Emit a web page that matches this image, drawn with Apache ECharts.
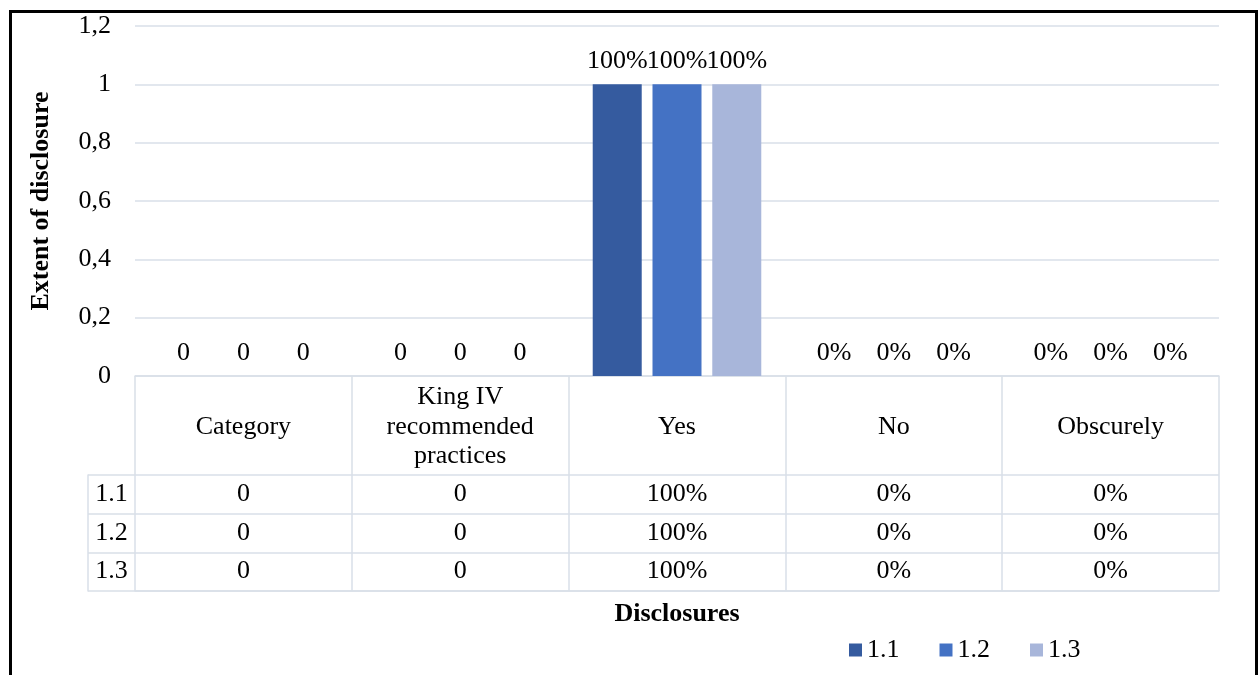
<!DOCTYPE html>
<html>
<head>
<meta charset="utf-8">
<title>Extent of disclosure</title>
<script src="https://cdn.jsdelivr.net/npm/echarts@6/dist/echarts.min.js"></script>
<style>
  html, body { margin: 0; padding: 0; background: #fff; }
  #chart { width: 1260px; height: 675px; }
</style>
</head>
<body>
<div id="chart"></div>
<script>
// Disclosure categories along the x axis
const categories = ['Category', 'King IV\nrecommended\npractices', 'Yes', 'No', 'Obscurely'];
// How each category's values are written: plain number or percentage
const valueFormats = ['number', 'number', 'percent', 'percent', 'percent'];
// Series names (rows of the data table)
const seriesNames = ['1.1', '1.2', '1.3'];
// Extent of disclosure per series
const values11 = [0, 0, 1, 0, 0];
const values12 = [0, 0, 1, 0, 0];
const values13 = [0, 0, 1, 0, 0];
// Y axis ticks
const yMin = 0, yMax = 1.2, yStep = 0.2;

const seriesValues = [values11, values12, values13];
const seriesColors = ['#355b9f', '#4472c4', '#a8b6da'];
const FONT = "'Liberation Serif', 'Times New Roman', serif";
const TEXT = '#000';
const LINE = '#d9dfe8';
const FS = 26;

function fmt(v, idx) {
  return valueFormats[idx] === 'percent' ? Math.round(v * 100) + '%' : String(v);
}

// Cells of the data table below the axis
const tableCells = [];
seriesValues.forEach((arr, s) => {
  arr.forEach((v, c) => tableCells.push([c, s, fmt(v, c)]));
});

const chart = echarts.init(document.getElementById('chart'), null, { renderer: 'canvas' });

chart.setOption({
  backgroundColor: '#fff',
  animation: false,
  textStyle: { fontFamily: FONT, color: TEXT },
  grid: [
    { left: 135, right: 41, top: 26, bottom: 299 },
    { left: 135, right: 41, top: 475, height: 116 }
  ],
  legend: {
    data: seriesNames,
    left: 844,
    top: 632,
    itemWidth: 13,
    itemHeight: 13,
    itemGap: 40,
    icon: 'rect',
    textStyle: { fontFamily: FONT, fontSize: FS, color: TEXT }
  },
  xAxis: [
    {
      gridIndex: 0,
      type: 'category',
      data: categories,
      axisLine: { show: true, lineStyle: { color: LINE, width: 1.5 } },
      axisTick: { show: true, interval: 0, length: 99, lineStyle: { color: LINE, width: 1.5 } },
      axisLabel: {
        interval: 0,
        margin: 51,
        verticalAlign: 'middle',
        lineHeight: 29.5,
        fontFamily: FONT,
        fontSize: FS,
        color: TEXT
      },
      splitLine: { show: false }
    },
    {
      gridIndex: 1,
      type: 'category',
      data: categories,
      axisLine: { show: true, lineStyle: { color: LINE, width: 1.5 } },
      axisTick: { show: false },
      axisLabel: { show: false },
      splitLine: { show: true, interval: 0, lineStyle: { color: LINE, width: 1.5 } },
      name: 'Disclosures',
      nameLocation: 'middle',
      nameGap: 10,
      nameTextStyle: { fontFamily: FONT, fontSize: FS, fontWeight: 'bold', color: TEXT }
    }
  ],
  yAxis: [
    {
      gridIndex: 0,
      type: 'value',
      min: yMin,
      max: yMax,
      interval: yStep,
      axisLine: { show: false },
      axisTick: { show: false },
      axisLabel: {
        margin: 24,
        fontFamily: FONT,
        fontSize: FS,
        color: TEXT,
        formatter: v => String(Math.round(v * 10) / 10).replace('.', ',')
      },
      splitLine: { show: true, lineStyle: { color: LINE, width: 1.5 } },
      name: 'Extent of disclosure',
      nameLocation: 'middle',
      nameGap: 81,
      nameRotate: 90,
      nameTextStyle: { fontFamily: FONT, fontSize: FS, fontWeight: 'bold', color: TEXT }
    },
    {
      gridIndex: 1,
      type: 'category',
      inverse: true,
      data: seriesNames,
      axisLine: { show: false },
      axisTick: { show: true, interval: 0, length: 47, lineStyle: { color: LINE, width: 1.5 } },
      axisLabel: { margin: 23.5, align: 'center', fontFamily: FONT, fontSize: FS, color: TEXT },
      splitLine: { show: true, interval: 0, lineStyle: { color: LINE, width: 1.5 } }
    },
    {
      // left edge of the series-name column
      gridIndex: 1,
      type: 'category',
      inverse: true,
      data: seriesNames,
      position: 'left',
      offset: 47,
      axisLine: { show: true, lineStyle: { color: LINE, width: 1.5 } },
      axisTick: { show: false },
      axisLabel: { show: false },
      splitLine: { show: false }
    }
  ],
  series: seriesValues.map((arr, s) => ({
    name: seriesNames[s],
    type: 'bar',
    xAxisIndex: 0,
    yAxisIndex: 0,
    data: arr,
    barWidth: 49,
    barGap: '22%',
    itemStyle: { color: seriesColors[s] },
    label: {
      show: true,
      position: 'top',
      distance: 10,
      fontFamily: FONT,
      fontSize: FS,
      color: TEXT,
      formatter: p => fmt(p.value, p.dataIndex)
    }
  })).concat([{
    type: 'scatter',
    xAxisIndex: 1,
    yAxisIndex: 1,
    data: tableCells,
    symbolSize: 0,
    silent: true,
    legendHoverLink: false,
    itemStyle: { opacity: 1 },
    label: {
      show: true,
      position: 'inside',
      opacity: 1,
      fontFamily: FONT,
      fontSize: FS,
      color: TEXT,
      formatter: p => p.value[2]
    }
  }]),
  graphic: [{
    type: 'rect',
    silent: true,
    shape: { x: 10.5, y: 11.5, width: 1246, height: 700 },
    style: { fill: null, stroke: '#000', lineWidth: 3 }
  }]
});
</script>
</body>
</html>
